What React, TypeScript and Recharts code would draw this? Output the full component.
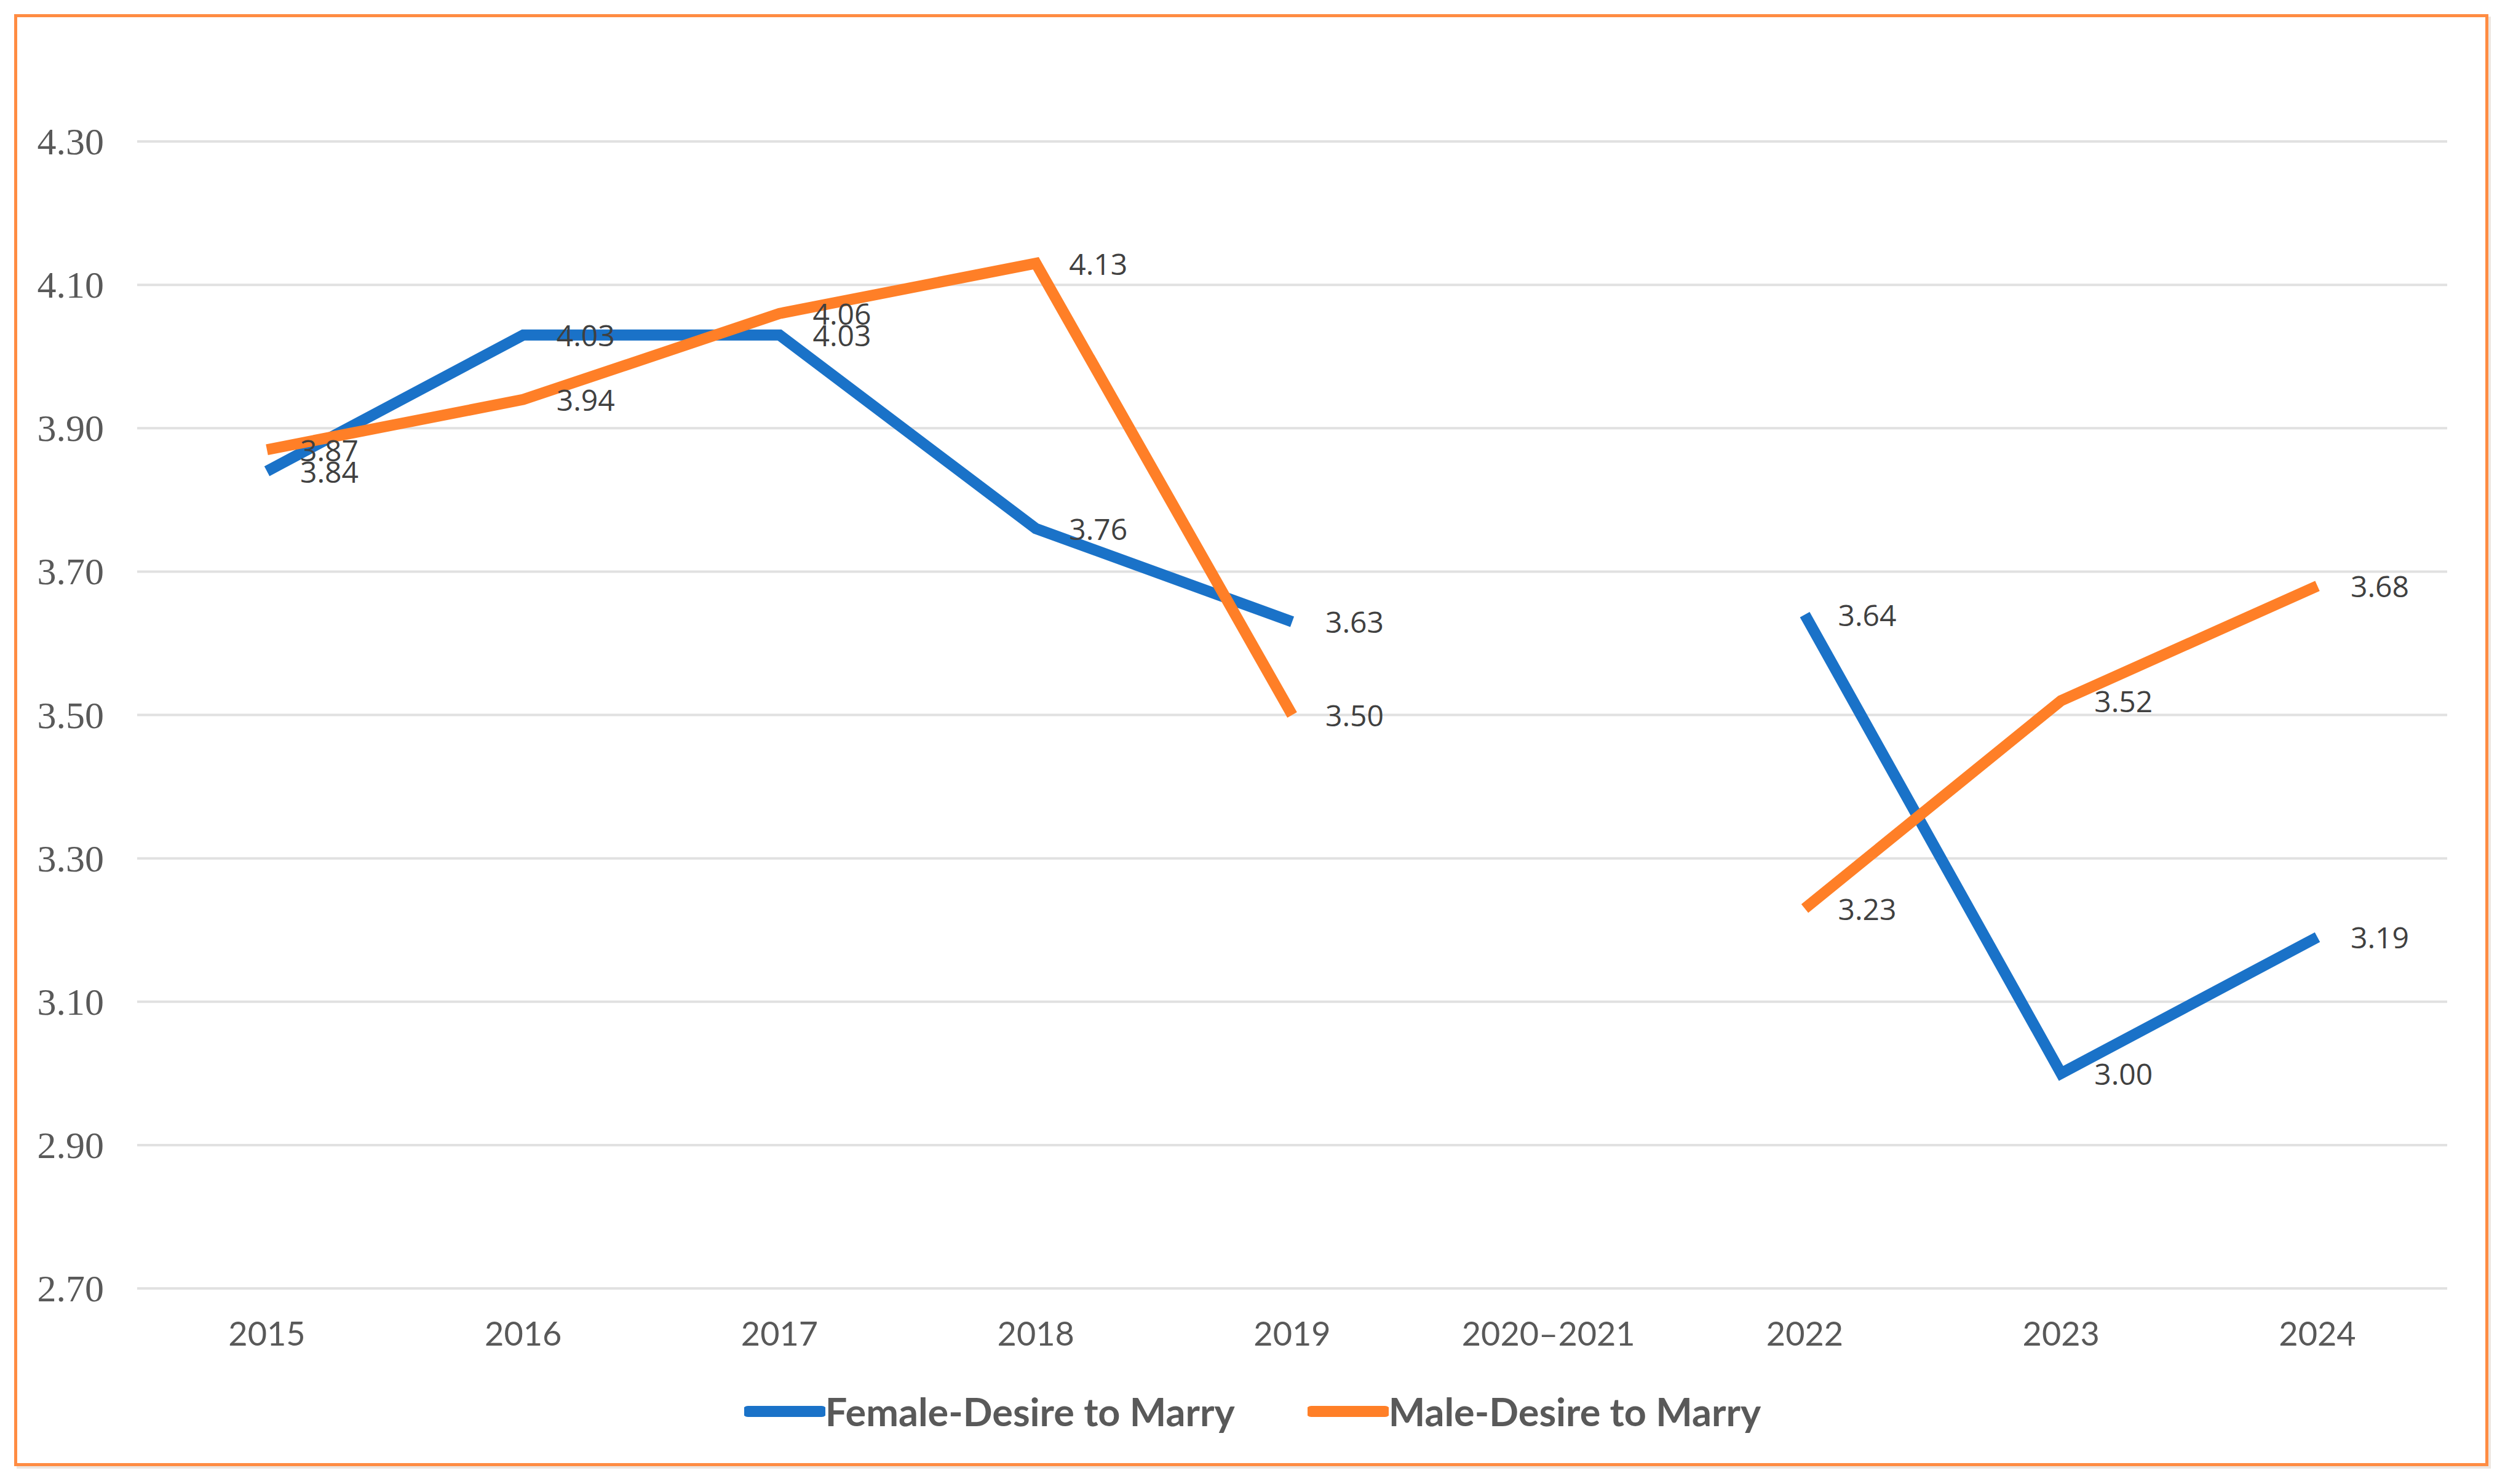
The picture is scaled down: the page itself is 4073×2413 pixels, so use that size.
import React from 'react';
import { LineChart, Line, XAxis, YAxis, CartesianGrid, Legend, LabelList } from 'recharts';

const categories = ['2015', '2016', '2017', '2018', '2019', '2020–2021', '2022', '2023', '2024'];
const femaleValues: (number | null)[] = [3.84, 4.03, 4.03, 3.76, 3.63, null, 3.64, 3.0, 3.19];
const maleValues: (number | null)[] = [3.87, 3.94, 4.06, 4.13, 3.5, null, 3.23, 3.52, 3.68];
const yTicks = [2.7, 2.9, 3.1, 3.3, 3.5, 3.7, 3.9, 4.1, 4.3];
const seriesNames = ['Female-Desire to Marry', 'Male-Desire to Marry'];
const seriesColors = ['#1A72C8', '#FF7F27'];

const data = categories.map((c, i) => ({
  category: c,
  female: femaleValues[i],
  male: maleValues[i],
}));

const W = 4057;
const H = 2397;

const renderYTick = (props: any) => {
  const { x, y, payload } = props;
  return (
    <text
      x={x - 54}
      y={y}
      textAnchor="end"
      dominantBaseline="central"
      fontFamily="'Liberation Serif', 'Times New Roman', serif"
      fontSize={62}
      fill="#595959"
    >
      {Number(payload.value).toFixed(2)}
    </text>
  );
};

const renderXTick = (props: any) => {
  const { x, y, payload } = props;
  return (
    <text
      x={x}
      y={y + 72}
      textAnchor="middle"
      dominantBaseline="central"
      fontFamily="Lato, 'Open Sans', sans-serif"
      fontSize={54}
      fill="#595959"
    >
      {payload.value}
    </text>
  );
};

const DataLabel = (props: any) => {
  const { value } = props;
  if (value === null || value === undefined) return null;
  const x = props.x ?? props.viewBox?.x;
  const y = props.y ?? props.viewBox?.y;
  if (x === undefined || y === undefined) return null;
  return (
    <text
      x={x + 54}
      y={y}
      textAnchor="start"
      dominantBaseline="central"
      fontFamily="'Open Sans', sans-serif"
      fontSize={48}
      fill="#404040"
    >
      {Number(value).toFixed(2)}
    </text>
  );
};

const renderLegend = (props: any) => {
  const payload = props.payload || [];
  return (
    <div
      style={{
        display: 'flex',
        justifyContent: 'center',
        alignItems: 'center',
        gap: 118,
        width: '100%',
      }}
    >
      {payload.map((entry: any, i: number) => (
        <div key={i} style={{ display: 'flex', alignItems: 'center' }}>
          <svg width={132} height={24} style={{ display: 'block' }}>
            <line x1={6} y1={12} x2={126} y2={12} stroke={entry.color} strokeWidth={18} strokeLinecap="round" />
          </svg>
          <span
            style={{
              fontFamily: "Lato, 'Open Sans', sans-serif",
              fontWeight: 700,
              fontSize: 63,
              color: '#595959',
              lineHeight: '80px',
              whiteSpace: 'nowrap',
            }}
          >
            {entry.value}
          </span>
        </div>
      ))}
    </div>
  );
};

export default function App() {
  return (
    <div style={{ position: 'relative', width: W, height: H }}>
      <div
        style={{
          position: 'absolute',
          left: 15,
          top: 15,
          width: 4023,
          height: 2361,
          boxSizing: 'border-box',
          border: '5px solid #FF8C42',
          boxShadow: '4px 4px 0 #EDE6E0',
          background: '#FFFFFF',
        }}
      />
      <div style={{ position: 'absolute', left: 0, top: 0 }}>
        <LineChart
          width={W}
          height={H}
          data={data}
          margin={{ top: 222, right: 86, bottom: 0, left: 0 }}
        >
          <CartesianGrid vertical={false} stroke="#E1E1E1" strokeWidth={4} />
          <XAxis
            dataKey="category"
            height={310}
            axisLine={false}
            tickLine={false}
            tickSize={0}
            tickMargin={0}
            padding={{ left: 211, right: 211 }}
            tick={renderXTick}
            interval={0}
          />
          <YAxis
            width={215}
            domain={[2.7, 4.3]}
            ticks={yTicks}
            axisLine={false}
            tickLine={false}
            tickSize={0}
            tickMargin={0}
            tick={renderYTick}
            interval={0}
          />
          <Legend
            verticalAlign="middle"
            align="center"
            layout="horizontal"
            content={renderLegend}
            wrapperStyle={{ top: 2247, left: 0, width: W, height: 80 }}
          />
          <Line
            type="linear"
            dataKey="female"
            name={seriesNames[0]}
            stroke={seriesColors[0]}
            strokeWidth={18}
            dot={false}
            activeDot={false}
            connectNulls={false}
            isAnimationActive={false}
          >
            <LabelList dataKey="female" content={<DataLabel />} />
          </Line>
          <Line
            type="linear"
            dataKey="male"
            name={seriesNames[1]}
            stroke={seriesColors[1]}
            strokeWidth={18}
            dot={false}
            activeDot={false}
            connectNulls={false}
            isAnimationActive={false}
          >
            <LabelList dataKey="male" content={<DataLabel />} />
          </Line>
        </LineChart>
      </div>
    </div>
  );
}
